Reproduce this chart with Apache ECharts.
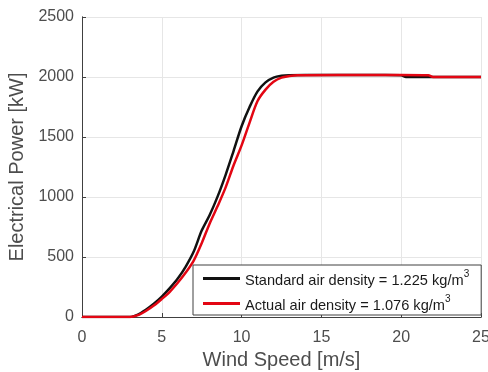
<!DOCTYPE html>
<html>
<head>
<meta charset="utf-8">
<script src="https://cdn.jsdelivr.net/npm/echarts@6/dist/echarts.min.js"></script>
<style>
  html, body { margin: 0; padding: 0; background: #fff; }
  #chart { width: 488px; height: 372px; }
</style>
</head>
<body>
<div id="chart"></div>
<script>
// wind speed [m/s] and power [kW]
const standardSpeed = [0, 3, 3.5, 4, 4.5, 5, 5.5, 6, 6.5, 7, 7.5, 8, 8.5, 9, 9.5, 10, 10.5, 11, 11.5, 12, 12.5, 13, 14, 16, 18, 20, 20.3, 22, 25]
const standardPower = [0, 0, 20, 60, 110, 170, 240, 320, 420, 545, 720, 850, 1005, 1185, 1385, 1590, 1750, 1880, 1955, 1995, 2010, 2015, 2017, 2017, 2016, 2015, 2000, 2000, 2000]

const actualSpeed = [0, 3, 3.5, 4, 4.5, 5, 5.5, 6, 6.5, 7, 7.5, 8, 8.5, 9, 9.5, 10, 10.5, 11, 11.5, 12, 12.5, 13, 13.5, 16, 18, 20, 21.7, 22, 25]
const actualPower = [0, 0, 15, 50, 95, 150, 210, 285, 370, 470, 615, 780, 925, 1080, 1265, 1430, 1620, 1800, 1895, 1960, 1995, 2008, 2015, 2017, 2016, 2016, 2014, 2000, 2000]

const xTicks = [0, 5, 10, 15, 20, 25]
const yTicks = [0, 500, 1000, 1500, 2000, 2500]

const pair = (xs, ys) => xs.map((x, i) => [x, ys[i]])

const font = 'Liberation Sans, Arial, sans-serif'
const axisColor = '#404040'
const labelColor = '#4d4d4d'
const gridColor = '#e6e6e6'

const chart = echarts.init(document.getElementById('chart'))

const tick = inside => ({ show: true, inside: inside, length: 4, lineStyle: { color: axisColor, width: 1 } })

chart.setOption({
  animation: false,
  grid: { left: 82, right: 7, top: 17, bottom: 55, containLabel: false, outerBoundsMode: 'none' },
  xAxis: [{
    type: 'value',
    min: xTicks[0],
    max: xTicks[xTicks.length - 1],
    interval: 5,
    name: 'Wind Speed [m/s]',
    nameLocation: 'middle',
    nameGap: 32,
    nameTextStyle: { fontFamily: font, fontSize: 20, color: labelColor },
    axisLine: { lineStyle: { color: axisColor, width: 1 } },
    axisTick: tick(true),
    axisLabel: { fontFamily: font, fontSize: 16, color: labelColor, margin: 13, formatter: v => String(v) },
    splitLine: { show: true, lineStyle: { color: gridColor, width: 1 } }
  }, {
    type: 'value',
    position: 'top',
    min: xTicks[0],
    max: xTicks[xTicks.length - 1],
    interval: 5,
    axisLine: { show: true, lineStyle: { color: axisColor, width: 1 } },
    axisTick: tick(false),
    axisLabel: { show: false },
    splitLine: { show: false }
  }],
  yAxis: [{
    type: 'value',
    min: yTicks[0],
    max: yTicks[yTicks.length - 1],
    interval: 500,
    name: 'Electrical Power [kW]',
    nameLocation: 'middle',
    nameGap: 42,
    nameTextStyle: { fontFamily: font, fontSize: 20, color: labelColor },
    axisLine: { show: true, lineStyle: { color: axisColor, width: 1 } },
    axisTick: tick(true),
    axisLabel: { fontFamily: font, fontSize: 16, color: labelColor, margin: 8, formatter: v => String(v) },
    splitLine: { show: true, lineStyle: { color: gridColor, width: 1 } }
  }, {
    type: 'value',
    position: 'right',
    min: yTicks[0],
    max: yTicks[yTicks.length - 1],
    interval: 500,
    axisLine: { show: true, lineStyle: { color: axisColor, width: 1 } },
    axisTick: tick(false),
    axisLabel: { show: false },
    splitLine: { show: false }
  }],
  legend: {
    orient: 'vertical',
    left: 193,
    top: 265,
    width: 288,
    padding: [4, 12, 2, 10],
    itemGap: 6,
    itemWidth: 37,
    itemHeight: 3,
    icon: 'rect',
    backgroundColor: '#fff',
    borderColor: axisColor,
    borderWidth: 1,
    borderRadius: 0,
    z: 10,
    data: ['standard', 'actual'],
    formatter: name => name === 'standard'
      ? '{t|Standard air density = 1.225 kg/m}{s|3}'
      : '{t|Actual air density = 1.076 kg/m}{s|3}',
    textStyle: {
      rich: {
        t: { fontFamily: font, fontSize: 14.6, color: '#1a1a1a', verticalAlign: 'bottom', lineHeight: 19 },
        s: { fontFamily: font, fontSize: 10, color: '#1a1a1a', verticalAlign: 'top', lineHeight: 19, padding: [0, 0, 8, 0] }
      }
    }
  },
  series: [{
    name: 'standard',
    type: 'line',
    data: pair(standardSpeed, standardPower),
    showSymbol: false,
    smooth: 0.3,
    lineStyle: { color: '#111111', width: 2.5 },
    itemStyle: { color: '#111111' },
    z: 2
  }, {
    name: 'actual',
    type: 'line',
    data: pair(actualSpeed, actualPower),
    showSymbol: false,
    smooth: 0.3,
    lineStyle: { color: '#e30613', width: 2.5 },
    itemStyle: { color: '#e30613' },
    z: 3
  }]
})
</script>
</body>
</html>
